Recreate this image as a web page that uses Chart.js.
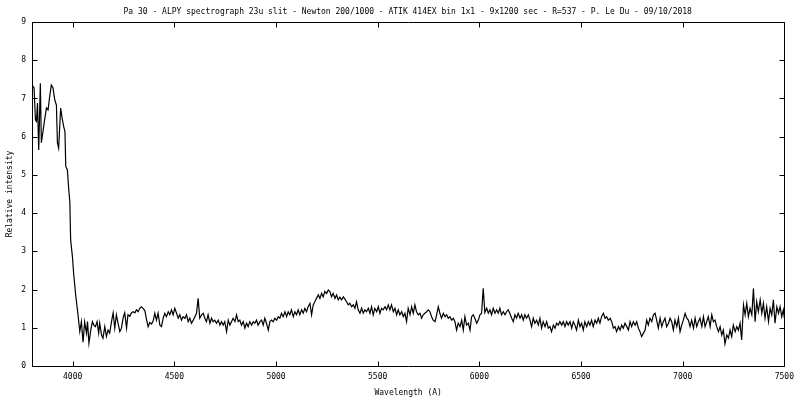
<!DOCTYPE html>
<html>
<head>
<meta charset="utf-8">
<title>Pa 30 - ALPY spectrum</title>
<script src="https://cdn.jsdelivr.net/npm/chart.js@4/dist/chart.umd.min.js"></script>
<style>
  html, body { margin: 0; padding: 0; background: #fff; }
  #wrap { width: 800px; height: 400px; }
</style>
</head>
<body>
<div id="wrap"><canvas id="spec" width="800" height="400"></canvas></div>
<script>
/* Pa 30 spectrum - gnuplot-like look with Chart.js */

const chartTitle = 'Pa 30 - ALPY spectrograph 23u slit - Newton 200/1000 - ATIK 414EX bin 1x1 - 9x1200 sec - R=537 - P. Le Du - 09/10/2018';
const xLabel = 'Wavelength (A)';
const yLabel = 'Relative intensity';

const xTicks = [4000, 4500, 5000, 5500, 6000, 6500, 7000, 7500];
const yTicks = [0, 1, 2, 3, 4, 5, 6, 7, 8, 9];

// wavelength (A)
const wavelength = [
  3800, 3810, 3817, 3822, 3827, 3833, 3841, 3846, 3854, 3862,
  3871, 3879, 3887, 3895, 3903, 3912, 3920, 3925, 3931, 3941,
  3948, 3956, 3962, 3966, 3974, 3981, 3986, 3990, 3999, 4005,
  4015, 4026, 4035, 4043, 4051, 4059, 4068, 4073, 4080, 4089,
  4097, 4104, 4112, 4120, 4128, 4133, 4142, 4149, 4158, 4166,
  4174, 4182, 4191, 4199, 4207, 4215, 4223, 4232, 4240, 4248,
  4256, 4265, 4272,
  4281, 4289, 4297, 4306, 4314, 4322, 4330, 4338, 4347, 4355,
  4363, 4371, 4379, 4388, 4396, 4404, 4412, 4420, 4429, 4437,
  4445, 4453, 4461, 4470, 4478, 4486, 4494, 4502, 4511, 4519,
  4527, 4535, 4543, 4552, 4560, 4568, 4576, 4584, 4593, 4601,
  4609, 4617, 4625, 4634, 4642, 4650, 4658, 4666, 4675, 4683,
  4691, 4699, 4707, 4716, 4724, 4732, 4740, 4748, 4757, 4765,
  4773, 4781, 4789, 4798, 4806, 4814, 4822, 4830, 4839, 4847,
  4855, 4863, 4871, 4880, 4888, 4896, 4904, 4912, 4921, 4929,
  4937, 4945, 4953, 4962, 4970, 4978, 4986, 4994, 5003, 5011,
  5019, 5027, 5035, 5044, 5052, 5060, 5068, 5076, 5085, 5093,
  5101, 5109, 5117, 5126, 5134, 5142, 5150, 5158, 5167, 5175,
  5183, 5191, 5199, 5208, 5216, 5224, 5232, 5240, 5249, 5257,
  5265, 5273, 5281, 5290, 5298, 5306, 5314, 5322, 5331, 5339,
  5347, 5355, 5363, 5372, 5380, 5388, 5396, 5404, 5413, 5421,
  5429, 5437, 5445, 5454, 5462, 5470, 5478, 5486, 5495, 5503,
  5511, 5519, 5527, 5536, 5544, 5552, 5560, 5568, 5577, 5585,
  5593, 5601, 5609, 5618, 5626, 5634, 5642, 5650, 5659, 5667,
  5675, 5683, 5691, 5700, 5708, 5716, 5724, 5732, 5741, 5749,
  5757, 5765, 5773, 5782, 5790, 5798, 5806, 5814, 5823, 5831,
  5839, 5847, 5855, 5864, 5872, 5880, 5888, 5896, 5905, 5913,
  5921, 5929, 5937, 5946, 5954, 5962, 5970, 5978, 5987, 5995,
  6003, 6011, 6019, 6027, 6036, 6044, 6052, 6060, 6068, 6077,
  6085, 6093, 6101, 6109, 6118, 6126, 6134, 6142, 6150, 6159,
  6167, 6175, 6183, 6191, 6200, 6208, 6216, 6224, 6232, 6241,
  6249, 6257, 6265, 6273, 6282, 6290, 6298, 6306, 6314, 6323,
  6331, 6339, 6347, 6355, 6364, 6372, 6380, 6388, 6396, 6405,
  6413, 6421, 6429, 6437, 6446, 6454, 6462, 6470, 6478, 6487,
  6495, 6503, 6511, 6519, 6528, 6536, 6544, 6552, 6560, 6569,
  6577, 6585, 6593, 6601, 6610, 6618, 6626, 6634, 6643, 6651,
  6659, 6667, 6675, 6684, 6692, 6700, 6708, 6716, 6725, 6733,
  6741, 6749, 6757, 6766, 6774, 6782, 6790, 6798, 6807, 6815,
  6823, 6831, 6839, 6848, 6856, 6864, 6872, 6880, 6889, 6897,
  6905, 6913, 6921, 6930, 6938, 6946, 6954, 6962, 6971, 6979,
  6987, 6995, 7003, 7012, 7020, 7028, 7036, 7044, 7053, 7061,
  7069, 7077, 7085, 7094, 7102, 7110, 7118, 7126, 7135, 7143,
  7151, 7159, 7167, 7176, 7184, 7192, 7200, 7208, 7217, 7225,
  7233, 7241, 7249, 7258, 7266, 7274, 7282, 7290, 7299, 7307,
  7315, 7323, 7331, 7340, 7348, 7356, 7364, 7372, 7381, 7389,
  7397, 7405, 7413, 7422, 7430, 7438, 7446, 7454, 7463, 7471,
  7479, 7487, 7495, 7500
];

// relative intensity at each wavelength
const intensity = [
  7.35, 7.28, 6.44, 6.40, 6.88, 5.65, 7.40, 5.84, 6.13, 6.44,
  6.75, 6.70, 7.05, 7.35, 7.28, 6.96, 6.83, 5.84, 5.70, 6.75,
  6.49, 6.26, 6.13, 5.22, 5.13, 4.60, 4.30, 3.30, 2.85, 2.40,
  1.85, 1.35, 0.90, 1.16, 0.62, 1.15, 0.86, 1.16, 0.60, 0.94,
  1.16, 1.07, 1.03, 1.16, 0.86, 1.12, 0.81, 0.73, 1.03, 0.77,
  0.94, 0.86, 1.16, 1.39, 0.99, 1.34, 1.12, 0.90, 0.99, 1.26,
  1.39, 0.99, 1.34,
  1.30, 1.39, 1.42, 1.39, 1.47, 1.42, 1.51, 1.55, 1.50, 1.45,
  1.22, 1.03, 1.14, 1.10, 1.18, 1.38, 1.20, 1.38, 1.07, 1.03,
  1.25, 1.38, 1.29, 1.42, 1.34, 1.47, 1.34, 1.51, 1.38, 1.25,
  1.34, 1.20, 1.29, 1.25, 1.34, 1.16, 1.25, 1.12, 1.20, 1.29,
  1.38, 1.77, 1.25, 1.34, 1.38, 1.25, 1.16, 1.34, 1.12, 1.25,
  1.16, 1.20, 1.12, 1.20, 1.07, 1.16, 1.07, 1.16, 0.90, 1.20,
  1.07, 1.16, 1.25, 1.16, 1.34, 1.16, 1.20, 1.07, 1.16, 0.99,
  1.12, 1.03, 1.16, 1.07, 1.16, 1.12, 1.20, 1.07, 1.16, 1.20,
  1.07, 1.25, 1.12, 0.94, 1.16, 1.20, 1.16, 1.25, 1.20, 1.29,
  1.25, 1.38, 1.29, 1.42, 1.29, 1.42, 1.34, 1.47, 1.29, 1.42,
  1.34, 1.47, 1.34, 1.47, 1.38, 1.51, 1.42, 1.55, 1.64, 1.34,
  1.60, 1.68, 1.77, 1.86, 1.77, 1.90, 1.81, 1.95, 1.90, 1.99,
  1.95, 1.81, 1.90, 1.77, 1.86, 1.73, 1.80, 1.73, 1.81, 1.75,
  1.68, 1.60, 1.64, 1.55, 1.60, 1.51, 1.68, 1.47, 1.38, 1.51,
  1.38, 1.47, 1.42, 1.51, 1.38, 1.55, 1.34, 1.51, 1.42, 1.55,
  1.38, 1.51, 1.47, 1.55, 1.47, 1.60, 1.47, 1.60, 1.42, 1.51,
  1.34, 1.47, 1.34, 1.42, 1.29, 1.38, 1.16, 1.51, 1.34, 1.55,
  1.38, 1.60, 1.42, 1.34, 1.38, 1.25, 1.34, 1.38, 1.42, 1.47,
  1.42, 1.29, 1.20, 1.16, 1.34, 1.55, 1.38, 1.25, 1.38, 1.29,
  1.34, 1.25, 1.29, 1.20, 1.25, 1.16, 0.94, 1.12, 1.03, 1.20,
  0.94, 1.29, 1.07, 1.12, 0.94, 1.29, 1.34, 1.25, 1.12, 1.20,
  1.34, 1.38, 2.03, 1.40, 1.51, 1.38, 1.47, 1.34, 1.51, 1.38,
  1.47, 1.38, 1.51, 1.34, 1.42, 1.34, 1.42, 1.47, 1.38, 1.25,
  1.16, 1.34, 1.25, 1.38, 1.25, 1.34, 1.20, 1.34, 1.25, 1.34,
  1.20, 1.03, 1.25, 1.12, 1.20, 1.07, 1.25, 0.99, 1.16, 1.03,
  1.16, 0.99, 1.03, 0.90, 1.07, 0.99, 1.12, 1.07, 1.16, 1.07,
  1.16, 1.03, 1.16, 1.07, 1.16, 0.99, 1.16, 1.07, 0.94, 1.20,
  1.03, 1.12, 0.94, 1.16, 1.03, 1.16, 1.07, 1.20, 1.03, 1.20,
  1.12, 1.25, 1.12, 1.29, 1.38, 1.25, 1.29, 1.20, 1.25, 1.16,
  0.99, 1.03, 0.90, 1.03, 0.94, 1.07, 0.99, 1.12, 1.03, 0.94,
  1.16, 1.03, 1.16, 1.07, 1.16, 0.99, 0.90, 0.77, 0.86, 0.94,
  1.20, 1.07, 1.25, 1.16, 1.34, 1.38, 1.20, 0.99, 1.25, 1.03,
  1.16, 1.25, 1.03, 1.12, 1.25, 1.16, 0.94, 1.20, 1.03, 1.25,
  0.90, 1.07, 1.20, 1.38, 1.25, 1.20, 1.03, 1.20, 0.99, 1.25,
  1.03, 1.16, 1.25, 1.03, 1.29, 1.03, 1.16, 1.29, 1.03, 1.34,
  1.16, 1.20, 1.03, 0.90, 1.03, 0.81, 0.94, 0.58, 0.81, 0.73,
  0.94, 0.77, 1.07, 0.90, 1.03, 0.94, 1.12, 0.68, 1.60, 1.34,
  1.64, 1.29, 1.51, 1.34, 2.03, 1.16, 1.68, 1.42, 1.73, 1.38,
  1.64, 1.25, 1.55, 1.16, 1.51, 1.34, 1.73, 1.12, 1.55, 1.38,
  1.55, 1.29, 1.47, 1.25
];

const monoFont = "'DejaVu Sans Mono', 'Liberation Mono', monospace";
Chart.defaults.font.family = monoFont;
Chart.defaults.font.size = 8;
Chart.defaults.color = '#000';

// gnuplot style frame with inward ticks on all four sides
const frameTicks = {
  id: 'frameTicks',
  afterDatasetsDraw(chart) {
    const { ctx, chartArea: a, scales: { x, y } } = chart;
    const L = Math.round(a.left) + 0.5, R = Math.round(a.right) + 0.5;
    const T = Math.round(a.top) + 0.5, B = Math.round(a.bottom) + 0.5;
    const len = 5;
    ctx.save();
    ctx.strokeStyle = '#000';
    ctx.lineWidth = 1;
    ctx.beginPath();
    ctx.rect(L, T, R - L, B - T);
    xTicks.forEach(v => {
      const px = Math.round(x.getPixelForValue(v)) + 0.5;
      ctx.moveTo(px, B); ctx.lineTo(px, B - len);
      ctx.moveTo(px, T); ctx.lineTo(px, T + len);
    });
    yTicks.forEach(v => {
      const py = Math.round(y.getPixelForValue(v)) + 0.5;
      ctx.moveTo(L, py); ctx.lineTo(L + len, py);
      ctx.moveTo(R, py); ctx.lineTo(R - len, py);
    });
    ctx.stroke();
    ctx.restore();
  }
};

const points = wavelength.map((w, i) => ({ x: w, y: intensity[i] }));

new Chart(document.getElementById('spec'), {
  type: 'line',
  data: {
    datasets: [{
      data: points,
      borderColor: '#000',
      borderWidth: 1.2,
      pointRadius: 0,
      tension: 0,
      fill: false
    }]
  },
  options: {
    responsive: false,
    animation: false,
    layout: { padding: { left: 14, right: 13, top: 0, bottom: 0 } },
    plugins: {
      legend: { display: false },
      tooltip: { enabled: false },
      title: {
        display: true,
        // leading spaces nudge the centred title a little right, as in the original
        text: '   ' + chartTitle,
        color: '#000',
        font: { family: monoFont, size: 8, weight: 'normal' },
        padding: { top: 7, bottom: 5.4 }
      }
    },
    scales: {
      x: {
        type: 'linear',
        min: 3800,
        max: 7500,
        grid: { display: false, drawTicks: false },
        border: { display: false },
        afterBuildTicks: s => { s.ticks = xTicks.map(v => ({ value: v })); },
        afterFit: s => { s.height = 34; },
        ticks: { padding: 6, maxRotation: 0, autoSkip: false, color: '#000', callback: v => String(v) },
        title: { display: true, text: xLabel, color: '#000', padding: { top: 0, bottom: 2 } }
      },
      y: {
        min: 0,
        max: 9,
        grid: { display: false, drawTicks: false },
        border: { display: false },
        afterBuildTicks: s => { s.ticks = yTicks.map(v => ({ value: v })); },
        afterFit: s => { s.width = 18; },
        ticks: { padding: 6, color: '#000', callback: v => String(v) },
        title: { display: true, text: yLabel, color: '#000', padding: { top: -9, bottom: 0 } }
      }
    }
  },
  plugins: [frameTicks]
});
</script>
</body>
</html>
